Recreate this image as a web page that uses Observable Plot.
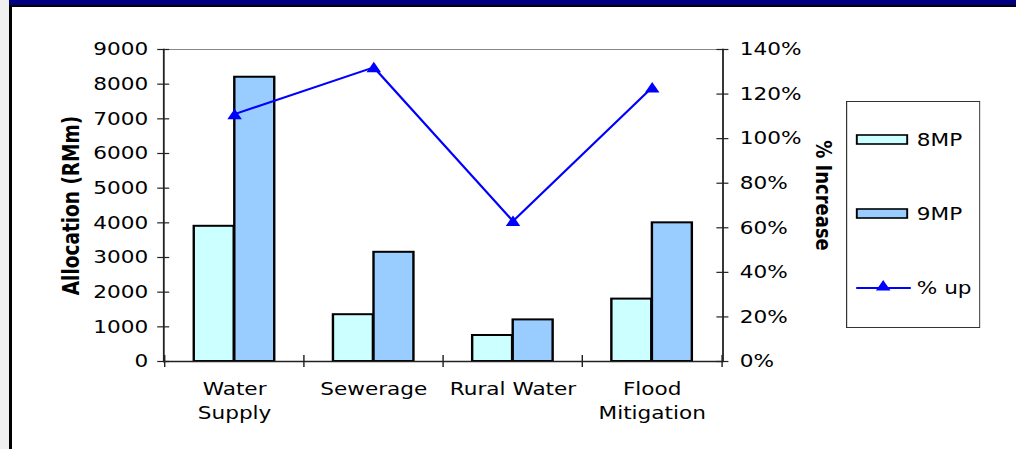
<!DOCTYPE html>
<html>
<head>
<meta charset="utf-8">
<script src="https://cdn.jsdelivr.net/npm/d3@7"></script>
<script src="https://cdn.jsdelivr.net/npm/@observablehq/plot@0.6"></script>
<style>
  html, body { margin: 0; padding: 0; background: #fff; }
  body { width: 1016px; height: 449px; overflow: hidden; position: relative; font-family: "DejaVu Sans", Verdana, sans-serif; }
  .blk { position: absolute; }
  #stage { position: absolute; left: 0; top: 0; width: 847px; height: 449px; transform: scaleX(1.2); transform-origin: 0 0; }
  #stage svg.plot { position: absolute; left: 0; top: 0; }
  #legend { position: absolute; left: 705px; top: 101px; }
</style>
</head>
<body>
<div class="blk" style="left:0;top:0;width:9px;height:449px;background:#f0f0f0"></div>
<div class="blk" style="left:9px;top:0;right:0;height:5px;background:#000080"></div>
<div class="blk" style="left:9px;top:5px;right:0;height:2px;background:#000"></div>
<div class="blk" style="left:9px;top:5px;width:3px;bottom:0;background:#000"></div>
<div id="stage"></div>
<script>
// ---- data ----
const categories = ["Water Supply", "Sewerage", "Rural Water", "Flood Mitigation"];
const categoryLabels = ["Water\nSupply", "Sewerage", "Rural Water", "Flood\nMitigation"];
const alloc8MP = [3900, 1350, 750, 1800];
const alloc9MP = [8200, 3150, 1200, 4000];
const pctUp = [111, 132, 63, 123];
const allocTicks = [0, 1000, 2000, 3000, 4000, 5000, 6000, 7000, 8000, 9000];
const pctTicks = [0, 20, 40, 60, 80, 100, 120, 140];
const seriesNames = ["8MP", "9MP", "% up"];
const allocMax = 9000, pctMax = 140;

const table = categories.map((c, i) => ({cat: c, label: categoryLabels[i], v8: alloc8MP[i], v9: alloc9MP[i], pct: pctUp[i]}));
const pctToY = p => p * allocMax / pctMax;

// ---- layout (unscaled; stage is stretched 1.2x horizontally) ----
const W = 847, H = 449, mL = 136, mR = 245, mT = 49, mB = 88;
const fw = W - mL - mR, fh = H - mT - mB;
const bw = fw / categories.length;
const c8 = "#CCFFFF", c9 = "#99CCFF", cLine = "#0000FF";
const font = "DejaVu Sans";

const chart = Plot.plot({
  width: W, height: H,
  marginLeft: mL, marginRight: mR, marginTop: mT, marginBottom: mB,
  style: {fontFamily: font, fontSize: "18px", color: "#000", background: "transparent"},
  x: {type: "band", domain: categories, padding: 0, axis: null},
  y: {domain: [0, allocMax], axis: null},
  marks: [
    Plot.ruleY([allocMax], {stroke: "#888", strokeWidth: 1}),
    Plot.barY(table, {x: "cat", y: "v8", fill: c8, stroke: "#000", strokeWidth: 2, insetLeft: 0.21 * bw, insetRight: 0.5 * bw}),
    Plot.barY(table, {x: "cat", y: "v9", fill: c9, stroke: "#000", strokeWidth: 2, insetLeft: 0.5 * bw, insetRight: 0.21 * bw}),
    // axis lines
    Plot.ruleY([0], {stroke: "#222", strokeWidth: 1.5}),
    Plot.frame({anchor: "left", stroke: "#222", strokeWidth: 1.5}),
    Plot.frame({anchor: "right", stroke: "#222", strokeWidth: 1.5}),
    // cross ticks
    Plot.tickY(allocTicks, {y: d => d, stroke: "#222", strokeWidth: 1.2, insetLeft: -5, insetRight: fw - 5}),
    Plot.tickY(pctTicks, {y: d => pctToY(d), stroke: "#222", strokeWidth: 1.2, insetLeft: fw - 5, insetRight: -5}),
    Plot.tickX(categories, {x: d => d, dx: -bw / 2, stroke: "#222", strokeWidth: 1.2, insetTop: fh - 6, insetBottom: -6}),
    Plot.tickX(categories.slice(-1), {x: d => d, dx: bw / 2, stroke: "#222", strokeWidth: 1.2, insetTop: fh - 6, insetBottom: -6}),
    // tick labels
    Plot.axisY({ticks: allocTicks, tickSize: 0, tickPadding: 13, tickFormat: d => String(d), label: null, fontSize: 18}),
    Plot.axisY({anchor: "right", ticks: pctTicks.map(pctToY), tickSize: 0, tickPadding: 14, tickFormat: d => Math.round(d * pctMax / allocMax) + "%", label: null, fontSize: 18}),
    Plot.text(table, {x: "cat", text: "label", frameAnchor: "bottom", dy: 16, lineAnchor: "top", lineHeight: 1.333, fontSize: 18}),
    // axis titles
    Plot.text(["Allocation (RMm)"], {frameAnchor: "left", textAnchor: "middle", dx: -77, rotate: -90, fontWeight: "bold", fontSize: 18.5}),
    Plot.text(["% Increase"], {frameAnchor: "right", textAnchor: "middle", dx: 83, dy: -10, rotate: 90, fontWeight: "bold", fontSize: 18}),
    // % up line
    Plot.line(table, {x: "cat", y: d => pctToY(d.pct), stroke: cLine, strokeWidth: 2}),
    Plot.dot(table, {x: "cat", y: d => pctToY(d.pct), symbol: "triangle", r: 4.5, fill: cLine, stroke: "none", dy: 1.5})
  ]
});
chart.classList.add("plot");
document.getElementById("stage").appendChild(chart);

// ---- legend ----
const lg = d3.select("#stage").append("svg").attr("id", "legend")
  .attr("width", 112).attr("height", 227)
  .style("font-family", font).style("font-size", "18px");
lg.append("rect").attr("x", 0.5).attr("y", 0.5).attr("width", 111).attr("height", 226)
  .attr("fill", "#fff").attr("stroke", "#333").attr("stroke-width", 1);
const rows = [33, 107, 187];
[c8, c9].forEach((c, i) => {
  lg.append("rect").attr("x", 9).attr("y", rows[i] + 1).attr("width", 42).attr("height", 9)
    .attr("fill", c).attr("stroke", "#000").attr("stroke-width", 1.6);
});
lg.append("line").attr("x1", 8.5).attr("x2", 54).attr("y1", rows[2]).attr("y2", rows[2])
  .attr("stroke", cLine).attr("stroke-width", 2);
lg.append("path").attr("d", d3.symbol(d3.symbolTriangle, Math.PI * 4.5 * 4.5)())
  .attr("transform", `translate(31,${rows[2] - 1})`).attr("fill", cLine);
seriesNames.forEach((s, i) => {
  lg.append("text").attr("x", 59).attr("y", rows[i] + (i < 2 ? 6 : 0)).attr("dy", "0.35em").text(s);
});
</script>
</body>
</html>
